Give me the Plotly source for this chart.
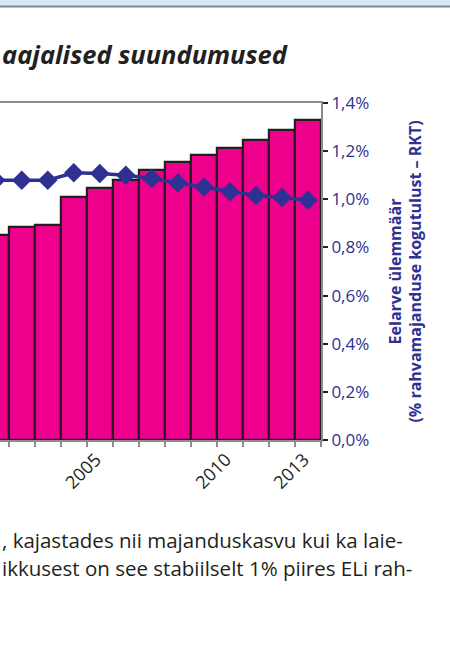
import plotly.graph_objects as go

# values (% of GNI)
years = list(range(2001, 2014))
bar_values = [0.851, 0.883, 0.892, 1.010, 1.046, 1.082, 1.121, 1.154, 1.186, 1.213, 1.245, 1.287, 1.328]
ceiling = [1.079, 1.079, 1.079, 1.110, 1.107, 1.100, 1.086, 1.068, 1.051, 1.031, 1.016, 1.007, 0.996]
label_years = [2005, 2010, 2013]
y_ticks = [0, 0.2, 0.4, 0.6, 0.8, 1.0, 1.2, 1.4]
y_ticktext = ["0,0%", "0,2%", "0,4%", "0,6%", "0,8%", "1,0%", "1,2%", "1,4%"]

title_text = "aajalised suundumused"
axis_title = "Eelarve ülemmäär<br>(% rahvamajanduse kogutulust – RKT)"
para_lines = [", kajastades nii majanduskasvu kui ka laie-",
              "ikkusest on see stabiilselt 1% piires ELi rah-"]

MAGENTA = "#ec008c"
BLUE = "#2e3192"
DARK = "#231f20"
GRAY = "#8c8c8c"
FONT = "Open Sans"

# plot area in pixels: x 0..321, y 103..440
PW, TOP, BOT = 321.0, 103.0, 440.0
def px_x(v):
    return v / PW
def px_y(v):
    return (BOT - v) / (BOT - TOP)

fig = go.Figure()

fig.add_trace(go.Bar(
    x=years, y=bar_values, width=1,
    marker=dict(color=MAGENTA, line=dict(color=DARK, width=2.2)),
    name="RKT", showlegend=False,
))

fig.add_trace(go.Scatter(
    x=years, y=ceiling, mode="lines+markers",
    line=dict(color=BLUE, width=3.5),
    marker=dict(symbol="diamond", size=15, color=BLUE),
    name="Eelarve ülemmäär", showlegend=False,
))

fig.update_layout(
    width=450, height=652, autosize=False,
    margin=dict(l=0, r=129, t=103, b=212, pad=0),
    paper_bgcolor="white", plot_bgcolor="white",
    bargap=0,
    font=dict(family=FONT, color=DARK),
)

fig.update_xaxes(
    range=[2001.165, 2013.5],
    tickmode="array", tickvals=label_years, ticktext=[str(y) for y in label_years],
    tickangle=-45, ticks="", tickfont=dict(size=18, color=DARK),
    ticklabelshift=-4,
    showline=True, linecolor=GRAY, linewidth=2, mirror=True,
    showgrid=False, zeroline=False,
    minor=dict(tick0=2000.5, dtick=1, ticks="outside", ticklen=5,
               tickcolor=GRAY, tickwidth=1.5, showgrid=False),
)

fig.update_yaxes(
    side="right", range=[0, 1.4],
    tickmode="array", tickvals=y_ticks, ticktext=y_ticktext,
    ticks="outside", ticklen=5, tickcolor=DARK, tickwidth=1.5,
    tickfont=dict(size=17, color=BLUE),
    showline=True, linecolor=GRAY, linewidth=2,
    showgrid=False, zeroline=False,
    title=dict(text="<b>" + axis_title + "</b>", font=dict(size=16, color=BLUE), standoff=21),
)

# light blue band at the top of the page
fig.add_shape(type="rect", xref="paper", yref="paper",
              x0=px_x(0), x1=px_x(450), y0=px_y(6), y1=px_y(0),
              fillcolor="#d5ebf9", line=dict(width=0))
fig.add_shape(type="line", xref="paper", yref="paper",
              x0=px_x(0), x1=px_x(450), y0=px_y(6.5), y1=px_y(6.5),
              line=dict(color="#7d8a93", width=2))

fig.add_annotation(
    text="<b><i>" + title_text + "</i></b>",
    xref="paper", yref="paper", x=px_x(0), y=px_y(54),
    xanchor="left", yanchor="middle", showarrow=False,
    font=dict(size=25.5, color=DARK, family=FONT),
)

for i, line in enumerate(para_lines):
    fig.add_annotation(
        text=line, xref="paper", yref="paper",
        x=px_x(0), y=px_y(540 + 28 * i),
        xanchor="left", yanchor="middle", showarrow=False, align="left",
        font=dict(size=20.5, color=DARK, family=FONT),
    )

fig.write_html("out.html", config={"displayModeBar": False},
               post_script="document.body.style.margin='0px';document.body.style.overflow='hidden';")
